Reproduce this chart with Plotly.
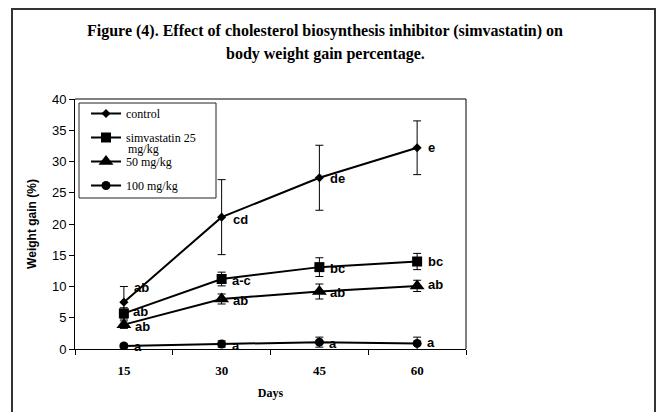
import plotly.graph_objects as go

days = ["15", "30", "45", "60"]
series_names = ["control", "simvastatin 25", "50 mg/kg", "100 mg/kg"]
name_wrap = "mg/kg"  # second line of the "simvastatin 25 mg/kg" legend entry
control = [7.5, 21.1, 27.4, 32.2]
control_err = [2.5, 6.0, 5.2, 4.3]
simva25 = [5.7, 11.2, 13.1, 14.0]
simva25_err = [0.9, 1.1, 1.5, 1.3]
simva50 = [3.9, 8.0, 9.2, 10.1]
simva50_err = [0.6, 0.8, 1.2, 0.9]
simva100 = [0.5, 0.8, 1.1, 0.9]
simva100_err = [0.3, 0.5, 0.8, 1.0]
letters = [
    ["ab", "cd", "de", "e"],
    ["ab", "a-c", "bc", "bc"],
    ["ab", "ab", "ab", "ab"],
    ["a", "a", "a", "a"],
]

values = [control, simva25, simva50, simva100]
errors = [control_err, simva25_err, simva50_err, simva100_err]
symbols = ["diamond", "square", "triangle-up", "circle"]
sizes = [7, 10, 13, 9]
label_dx = [[8, 9, 9, 9], [7, 8, 9, 9], [9, 9, 9, 9], [8, 8, 8, 8]]
label_dy = [[15, -2, -1, 0], [2, -1, -1, 0], [-2, -1, -1, 1], [-1, -1, -1, 1]]


def px(x):
    return (x - 75) / 391


def py(y):
    return (349 - y) / 250


fig = go.Figure()
for i, (name, v, e, sym, sz) in enumerate(zip(series_names, values, errors, symbols, sizes)):
    fig.add_trace(go.Scatter(
        x=days, y=v, name=name, mode="lines+markers", legendgroup="g%d" % i,
        line=dict(color="black", width=2),
        marker=dict(symbol=sym, size=sz, color="black"),
        error_y=dict(type="data", array=e, color="black", thickness=1, width=4),
    ))

annotations = []
for si, (v, labs) in enumerate(zip(values, letters)):
    for pi, (val, lab) in enumerate(zip(v, labs)):
        annotations.append(dict(
            x=pi, y=val, xref="x", yref="y", text="<b>" + lab + "</b>", showarrow=False,
            xanchor="left", yanchor="middle",
            xshift=label_dx[si][pi], yshift=label_dy[si][pi],
            font=dict(family="Liberation Sans, Arial", size=13, color="black"),
        ))

serif = "Liberation Serif, Times New Roman"
title_font = dict(family=serif, size=16, color="black")
annotations.append(dict(
    x=px(325), y=py(31), xref="paper", yref="paper",
    text="<b>Figure (4). Effect of cholesterol biosynthesis inhibitor (simvastatin) on</b>",
    showarrow=False, xanchor="center", yanchor="middle", font=title_font))
annotations.append(dict(
    x=px(325), y=py(54), xref="paper", yref="paper",
    text="<b>body weight gain percentage.</b>",
    showarrow=False, xanchor="center", yanchor="middle", font=title_font))
annotations.append(dict(
    x=px(126), y=py(149), xref="paper", yref="paper", text=name_wrap,
    showarrow=False, xanchor="left", yanchor="middle",
    font=dict(family=serif, size=12, color="black")))

fig.update_layout(
    width=658, height=412,
    margin=dict(l=75, r=192, t=99, b=63),
    paper_bgcolor="white", plot_bgcolor="white",
    showlegend=True,
    legend=dict(
        x=px(86), y=py(99), xanchor="left", yanchor="top",
        bgcolor="rgba(0,0,0,0)", borderwidth=0,
        font=dict(family=serif, size=12, color="black"),
        itemwidth=30, traceorder="grouped", tracegroupgap=5,
    ),
    annotations=annotations,
    xaxis=dict(
        type="category", range=[-0.5, 3.5], tickson="boundaries",
        ticks="outside", ticklen=5, tickcolor="black", ticklabelstandoff=9,
        showline=True, linecolor="black", linewidth=1, mirror=False,
        showgrid=False, zeroline=False,
        tickfont=dict(family=serif, size=13, color="black", weight="bold"),
        title=dict(text="<b>Days</b>", standoff=12,
                   font=dict(family=serif, size=12, color="black")),
    ),
    yaxis=dict(
        range=[0, 40], dtick=5, ticks="outside", ticklen=5, tickcolor="black",
        showline=True, linecolor="black", linewidth=1,
        showgrid=False, zeroline=False,
        tickfont=dict(family="Liberation Sans, Arial", size=13, color="black"),
        title=dict(text="<b>Weight gain (%)</b>", standoff=12,
                   font=dict(family="Liberation Sans, Arial", size=12, color="black")),
    ),
    shapes=[
        dict(type="line", xref="paper", yref="paper", x0=0, x1=1, y0=1, y1=1,
             line=dict(color="black", width=1)),
        dict(type="line", xref="paper", yref="paper", x0=1, x1=1, y0=0, y1=1,
             line=dict(color="black", width=1)),
        # legend frame
        dict(type="rect", xref="paper", yref="paper", layer="above",
             x0=px(79), x1=px(216), y0=py(198), y1=py(103),
             line=dict(color="#222222", width=1)),
        # outer chart border
        dict(type="rect", xref="paper", yref="paper",
             x0=px(12), x1=px(655), y0=py(420), y1=py(9),
             line=dict(color="#333333", width=2)),
    ],
)

fig.write_html("out.html", config={"displayModeBar": False},
               post_script="document.body.style.margin='0px';")
